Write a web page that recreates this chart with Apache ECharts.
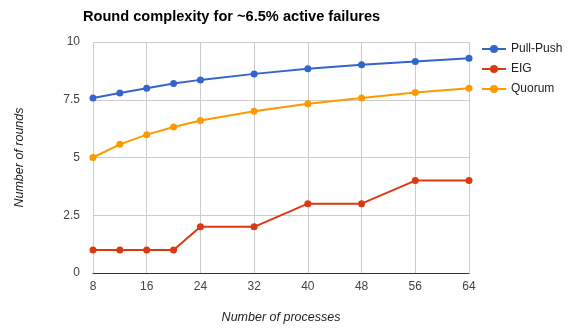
<!DOCTYPE html>
<html>
<head>
<meta charset="utf-8">
<script src="https://cdn.jsdelivr.net/npm/echarts@6/dist/echarts.min.js"></script>
<style>
  html, body { margin: 0; padding: 0; background: #fff; }
  #main { width: 579px; height: 328px; }
</style>
</head>
<body>
<div id="main"></div>
<script>
// data
var processes = [8, 12, 16, 20, 24, 32, 40, 48, 56, 64];
var pullPush = [7.58, 7.79, 8.0, 8.2, 8.36, 8.62, 8.84, 9.01, 9.16, 9.3];
var eig = [1, 1, 1, 1, 2, 2, 3, 3, 4, 4];
var quorum = [5.0, 5.57, 5.99, 6.32, 6.6, 7.0, 7.33, 7.58, 7.81, 8.0];

function pairs(ys) {
  return processes.map(function (x, i) { return [x, ys[i]]; });
}

var myChart = echarts.init(document.getElementById('main'));

var font = 'Liberation Sans, Arial, sans-serif';

var option = {
  animation: false,
  title: {
    text: 'Round complexity for ~6.5% active failures',
    left: 78,
    top: 4,
    textStyle: { fontFamily: font, fontSize: 14.6, fontWeight: 'bold', color: '#000' }
  },
  legend: {
    orient: 'vertical',
    left: 476,
    top: 38,
    itemGap: 8,
    itemWidth: 24,
    itemHeight: 10,
    textStyle: { fontFamily: font, fontSize: 12, color: '#222' },
    data: ['Pull-Push', 'EIG', 'Quorum']
  },
  grid: { left: 93, right: 110, top: 42, bottom: 55, outerBoundsMode: 'none' },
  xAxis: {
    type: 'value',
    min: 8,
    max: 64,
    interval: 8,
    name: 'Number of processes',
    nameLocation: 'middle',
    nameGap: 38,
    nameTextStyle: { fontFamily: font, fontSize: 12.5, fontStyle: 'italic', color: '#222' },
    axisLine: { lineStyle: { color: '#333', width: 1 } },
    axisTick: { show: false },
    axisLabel: { fontFamily: font, fontSize: 12, color: '#444', margin: 8 },
    splitLine: { show: true, lineStyle: { color: '#ccc' } }
  },
  yAxis: {
    type: 'value',
    min: 0,
    max: 10,
    interval: 2.5,
    name: 'Number of rounds',
    nameLocation: 'middle',
    nameGap: 67,
    nameTextStyle: { fontFamily: font, fontSize: 12.5, fontStyle: 'italic', color: '#222' },
    axisLine: { show: false },
    axisTick: { show: false },
    axisLabel: { fontFamily: font, fontSize: 12, color: '#444', margin: 13 },
    splitLine: { lineStyle: { color: '#ccc' } }
  },
  series: [
    {
      name: 'Pull-Push', type: 'line', data: pairs(pullPush),
      symbol: 'circle', symbolSize: 7,
      itemStyle: { color: '#3366cc' }, lineStyle: { width: 2 }
    },
    {
      name: 'EIG', type: 'line', data: pairs(eig),
      symbol: 'circle', symbolSize: 7,
      itemStyle: { color: '#dc3912' }, lineStyle: { width: 2 }
    },
    {
      name: 'Quorum', type: 'line', data: pairs(quorum),
      symbol: 'circle', symbolSize: 7,
      itemStyle: { color: '#ff9900' }, lineStyle: { width: 2 }
    }
  ]
};

myChart.setOption(option);
</script>
</body>
</html>
